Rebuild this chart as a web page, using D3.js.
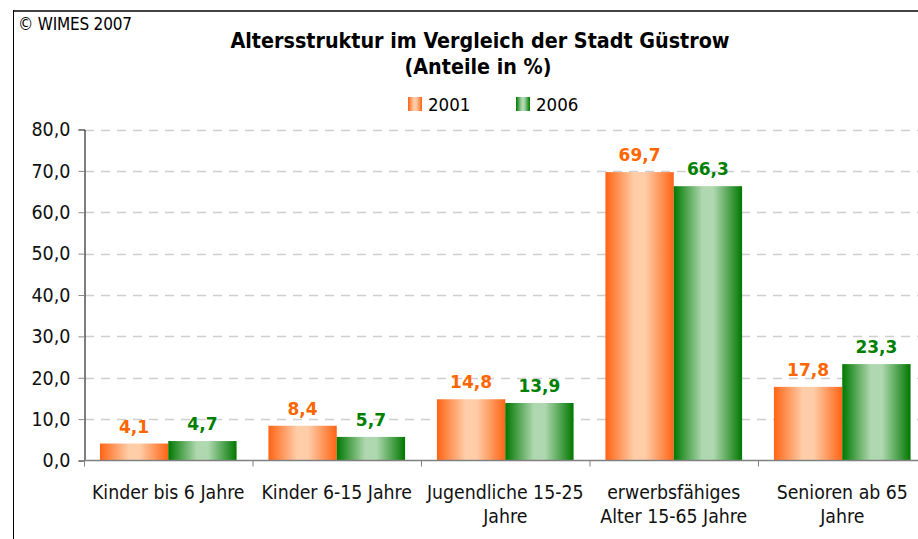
<!DOCTYPE html>
<html><head><meta charset="utf-8">
<script src="https://cdn.jsdelivr.net/npm/d3@7"></script>
<style>
body{margin:0;background:#fff;}
text{font-family:"DejaVu Sans Condensed","DejaVu Sans",sans-serif;}
text.val{font-family:"DejaVu Sans",sans-serif;}
</style></head>
<body>
<svg id="c" width="918" height="539"></svg>
<script>
const categories = [["Kinder bis 6 Jahre"], ["Kinder 6-15 Jahre"], ["Jugendliche 15-25", "Jahre"], ["erwerbsfähiges", "Alter 15-65 Jahre"], ["Senioren ab 65", "Jahre"]];
const seriesNames = ["2001", "2006"];
const values2001 = [4.1, 8.4, 14.8, 69.7, 17.8];
const values2006 = [4.7, 5.7, 13.9, 66.3, 23.3];
const yTicks = [0, 10, 20, 30, 40, 50, 60, 70, 80];
const colors = {"2001": "#FF6600", "2006": "#008000"};

const svg = d3.select("#c");
const defs = svg.append("defs");
function grad(id, edge, mid) {
  const g = defs.append("linearGradient").attr("id", id).attr("x1", "0").attr("x2", "1").attr("y1", "0").attr("y2", "0");
  g.append("stop").attr("offset", "0").attr("stop-color", edge);
  g.append("stop").attr("offset", "0.42").attr("stop-color", mid);
  g.append("stop").attr("offset", "0.58").attr("stop-color", mid);
  g.append("stop").attr("offset", "1").attr("stop-color", edge);
}
grad("g2001", "#FF6414", "#FFCDA8");
grad("g2006", "#007800", "#B0D8B0");

// frame
svg.append("line").attr("x1", 13).attr("x2", 918).attr("y1", 11).attr("y2", 11).attr("stroke", "#444").attr("stroke-width", 2);
svg.append("line").attr("x1", 13.5).attr("x2", 13.5).attr("y1", 10).attr("y2", 539).attr("stroke", "#000").attr("stroke-width", 1);

svg.append("text").attr("x", 18).attr("y", 30).attr("font-size", 17).attr("letter-spacing", -0.2).attr("fill", "#000").text("© WIMES 2007");

svg.append("text").attr("x", 480).attr("y", 48).attr("text-anchor", "middle").attr("font-size", 21.3).attr("font-weight", "bold").text("Altersstruktur im Vergleich der Stadt Güstrow");
svg.append("text").attr("x", 478).attr("y", 74).attr("text-anchor", "middle").attr("font-size", 21.3).attr("font-weight", "bold").text("(Anteile in %)");

// legend
const leg = [{k: "2001", x: 408}, {k: "2006", x: 516}];
leg.forEach(d => {
  svg.append("rect").attr("x", d.x).attr("y", 97).attr("width", 14).attr("height", 14).attr("fill", "url(#g" + d.k + ")");
  svg.append("text").attr("x", d.x + 20).attr("y", 111).attr("font-size", 18.5).text(d.k);
});

const y = d3.scaleLinear().domain([0, 80]).range([460.5, 129.5]);
const x0 = d3.scaleBand().domain(d3.range(categories.length)).range([84, 926.5]).paddingInner(0).paddingOuter(0);
const x1 = d3.scaleBand().domain(seriesNames).range([0, x0.bandwidth()]).paddingInner(0).paddingOuter(0.233);

// gridlines
svg.append("g").selectAll("line").data(yTicks.filter(t => t > 0)).join("line")
  .attr("x1", 85).attr("x2", 918).attr("y1", d => Math.round(y(d)) + 0.5).attr("y2", d => Math.round(y(d)) + 0.5)
  .attr("stroke", "#cfcfcf").attr("stroke-width", 1.3).attr("stroke-dasharray", "9,7");

// bars
const data = categories.map((c, i) => ({i, vals: [{k: "2001", v: values2001[i]}, {k: "2006", v: values2006[i]}]}));
const gc = svg.append("g").selectAll("g").data(data).join("g").attr("transform", d => `translate(${x0(d.i)},0)`);
gc.selectAll("rect").data(d => d.vals).join("rect")
  .attr("x", d => x1(d.k)).attr("width", x1.bandwidth())
  .attr("y", d => y(d.v)).attr("height", d => y(0) - y(d.v))
  .attr("fill", d => "url(#g" + d.k + ")");
gc.selectAll("text").data(d => d.vals).join("text").attr("class", "val")
  .attr("x", d => x1(d.k) + x1.bandwidth() / 2).attr("y", d => y(d.v) - 11)
  .attr("text-anchor", "middle").attr("font-size", 17).attr("font-weight", "bold")
  .attr("fill", d => colors[d.k])
  .text(d => d3.format(".1f")(d.v).replace(".", ","));

// y axis
const yAxis = d3.axisLeft(y).tickValues(yTicks).tickSize(6).tickPadding(8).tickFormat(d => d3.format(".1f")(d).replace(".", ","));
const ya = svg.append("g").attr("transform", "translate(84.5,0)").call(yAxis);
ya.select(".domain").attr("stroke", "#000");
ya.selectAll(".tick line").attr("stroke", "#888");
ya.selectAll("text").attr("font-size", 19.5).attr("fill", "#111");

// x axis
const xa = svg.append("g").attr("transform", `translate(0,${y(0)})`);
xa.append("line").attr("x1", 84).attr("x2", 918).attr("y1", 0).attr("y2", 0).attr("stroke", "#808080").attr("stroke-width", 1.5);
xa.selectAll("line.t").data(d3.range(categories.length + 1)).join("line").attr("class", "t")
  .attr("x1", d => (d < categories.length ? x0(d) : x0.range()[1]) + 0.5).attr("x2", d => (d < categories.length ? x0(d) : x0.range()[1]) + 0.5)
  .attr("y1", 0).attr("y2", 6).attr("stroke", "#808080");
xa.selectAll("text").data(categories).join("text")
  .attr("x", (d, i) => x0(i) + x0.bandwidth() / 2).attr("y", 38)
  .attr("text-anchor", "middle").attr("font-size", 19.3).attr("fill", "#111")
  .each(function(d) {
    const t = d3.select(this);
    d.forEach((line, j) => t.append("tspan").attr("x", t.attr("x")).attr("dy", j === 0 ? 0 : 24).text(line));
  });
</script>
</body></html>
